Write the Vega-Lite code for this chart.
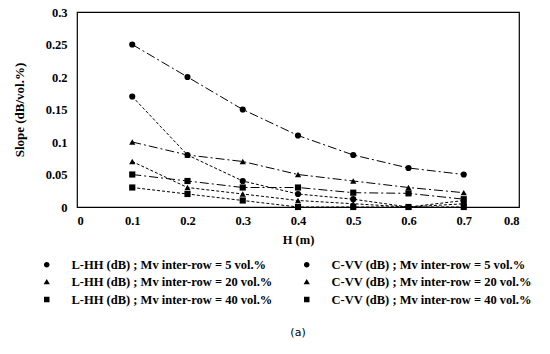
{
  "$schema": "https://vega.github.io/schema/vega-lite/v6.json",
  "width": 442,
  "height": 195,
  "autosize": "none",
  "padding": {"left": 77, "top": 12, "right": 31, "bottom": 147},
  "background": "white",
  "title": {"text": "(a)", "orient": "bottom", "offset": 20, "anchor": "middle", "font": "DejaVu Sans", "fontSize": 11, "fontWeight": "normal", "color": "black"},
  "config": {
    "view": {"stroke": "black", "strokeWidth": 1.2},
    "font": "Liberation Serif",
    "axis": {"grid": false, "ticks": false, "domain": false, "labelFont": "Liberation Serif", "labelFontWeight": "bold", "labelFontSize": 12.5, "labelColor": "black", "titleFont": "Liberation Serif", "titleFontWeight": "bold", "titleColor": "black"},
    "legend": {
      "title": null, "orient": "none", "legendX": -47, "legendY": 245.5, "direction": "horizontal", "columns": 2,
      "columnPadding": 14, "rowPadding": 3.5, "symbolSize": 156, "symbolOffset": 9.75, "labelOffset": 17.75,
      "labelFont": "Liberation Serif", "labelFontWeight": "bold", "labelFontSize": 12.5, "labelColor": "black", "labelLimit": 400,
      "symbolFillColor": "black", "symbolStrokeColor": "black", "symbolStrokeWidth": 1, "symbolOpacity": 1
    }
  },
  "data": {"values": [
    {"series": "L-HH (dB) ; Mv inter-row = 5 vol.%", "H": 0.1, "slope": 0.25},
    {"series": "L-HH (dB) ; Mv inter-row = 5 vol.%", "H": 0.2, "slope": 0.2},
    {"series": "L-HH (dB) ; Mv inter-row = 5 vol.%", "H": 0.3, "slope": 0.15},
    {"series": "L-HH (dB) ; Mv inter-row = 5 vol.%", "H": 0.4, "slope": 0.11},
    {"series": "L-HH (dB) ; Mv inter-row = 5 vol.%", "H": 0.5, "slope": 0.08},
    {"series": "L-HH (dB) ; Mv inter-row = 5 vol.%", "H": 0.6, "slope": 0.06},
    {"series": "L-HH (dB) ; Mv inter-row = 5 vol.%", "H": 0.7, "slope": 0.05},
    {"series": "C-VV (dB) ; Mv inter-row = 5 vol.%", "H": 0.1, "slope": 0.17},
    {"series": "C-VV (dB) ; Mv inter-row = 5 vol.%", "H": 0.2, "slope": 0.08},
    {"series": "C-VV (dB) ; Mv inter-row = 5 vol.%", "H": 0.3, "slope": 0.04},
    {"series": "C-VV (dB) ; Mv inter-row = 5 vol.%", "H": 0.4, "slope": 0.02},
    {"series": "C-VV (dB) ; Mv inter-row = 5 vol.%", "H": 0.5, "slope": 0.012},
    {"series": "C-VV (dB) ; Mv inter-row = 5 vol.%", "H": 0.6, "slope": 0.0},
    {"series": "C-VV (dB) ; Mv inter-row = 5 vol.%", "H": 0.7, "slope": 0.005},
    {"series": "L-HH (dB) ; Mv inter-row = 20 vol.%", "H": 0.1, "slope": 0.1},
    {"series": "L-HH (dB) ; Mv inter-row = 20 vol.%", "H": 0.2, "slope": 0.08},
    {"series": "L-HH (dB) ; Mv inter-row = 20 vol.%", "H": 0.3, "slope": 0.07},
    {"series": "L-HH (dB) ; Mv inter-row = 20 vol.%", "H": 0.4, "slope": 0.05},
    {"series": "L-HH (dB) ; Mv inter-row = 20 vol.%", "H": 0.5, "slope": 0.04},
    {"series": "L-HH (dB) ; Mv inter-row = 20 vol.%", "H": 0.6, "slope": 0.03},
    {"series": "L-HH (dB) ; Mv inter-row = 20 vol.%", "H": 0.7, "slope": 0.022},
    {"series": "C-VV (dB) ; Mv inter-row = 20 vol.%", "H": 0.1, "slope": 0.07},
    {"series": "C-VV (dB) ; Mv inter-row = 20 vol.%", "H": 0.2, "slope": 0.03},
    {"series": "C-VV (dB) ; Mv inter-row = 20 vol.%", "H": 0.3, "slope": 0.02},
    {"series": "C-VV (dB) ; Mv inter-row = 20 vol.%", "H": 0.4, "slope": 0.01},
    {"series": "C-VV (dB) ; Mv inter-row = 20 vol.%", "H": 0.5, "slope": 0.005},
    {"series": "C-VV (dB) ; Mv inter-row = 20 vol.%", "H": 0.6, "slope": 0.0},
    {"series": "C-VV (dB) ; Mv inter-row = 20 vol.%", "H": 0.7, "slope": 0.01},
    {"series": "L-HH (dB) ; Mv inter-row = 40 vol.%", "H": 0.1, "slope": 0.05},
    {"series": "L-HH (dB) ; Mv inter-row = 40 vol.%", "H": 0.2, "slope": 0.04},
    {"series": "L-HH (dB) ; Mv inter-row = 40 vol.%", "H": 0.3, "slope": 0.03},
    {"series": "L-HH (dB) ; Mv inter-row = 40 vol.%", "H": 0.4, "slope": 0.03},
    {"series": "L-HH (dB) ; Mv inter-row = 40 vol.%", "H": 0.5, "slope": 0.022},
    {"series": "L-HH (dB) ; Mv inter-row = 40 vol.%", "H": 0.6, "slope": 0.021},
    {"series": "L-HH (dB) ; Mv inter-row = 40 vol.%", "H": 0.7, "slope": 0.012},
    {"series": "C-VV (dB) ; Mv inter-row = 40 vol.%", "H": 0.1, "slope": 0.03},
    {"series": "C-VV (dB) ; Mv inter-row = 40 vol.%", "H": 0.2, "slope": 0.02},
    {"series": "C-VV (dB) ; Mv inter-row = 40 vol.%", "H": 0.3, "slope": 0.01},
    {"series": "C-VV (dB) ; Mv inter-row = 40 vol.%", "H": 0.4, "slope": 0.0},
    {"series": "C-VV (dB) ; Mv inter-row = 40 vol.%", "H": 0.5, "slope": 0.0},
    {"series": "C-VV (dB) ; Mv inter-row = 40 vol.%", "H": 0.6, "slope": 0.0},
    {"series": "C-VV (dB) ; Mv inter-row = 40 vol.%", "H": 0.7, "slope": 0.0}
  ]},
  "encoding": {
    "x": {"field": "H", "type": "quantitative", "title": "H (m)", "scale": {"domain": [0, 0.8], "nice": false, "zero": false},
      "axis": {"values": [0, 0.1, 0.2, 0.3, 0.4, 0.5, 0.6, 0.7, 0.8], "format": "~g", "labelPadding": 7, "titleFontSize": 12.5, "titlePadding": 7}},
    "y": {"field": "slope", "type": "quantitative", "title": "Slope (dB/vol.%)", "scale": {"domain": [0, 0.3], "nice": false},
      "axis": {"values": [0, 0.05, 0.1, 0.15, 0.2, 0.25, 0.3], "format": "~g", "labelPadding": 10, "titleFontSize": 13, "titlePadding": 19}}
  },
  "layer": [
    {
      "mark": {"type": "line", "color": "black", "strokeWidth": 1},
      "encoding": {
        "detail": {"field": "series"},
        "strokeDash": {"field": "series", "type": "nominal", "legend": null,
          "scale": {"domain": ["L-HH (dB) ; Mv inter-row = 5 vol.%", "C-VV (dB) ; Mv inter-row = 5 vol.%", "L-HH (dB) ; Mv inter-row = 20 vol.%", "C-VV (dB) ; Mv inter-row = 20 vol.%", "L-HH (dB) ; Mv inter-row = 40 vol.%", "C-VV (dB) ; Mv inter-row = 40 vol.%"],
            "range": [[9, 3, 2, 3], [3, 2], [9, 3, 2, 3], [3, 2], [9, 3, 2, 3], [3, 2]]}}
      }
    },
    {
      "mark": {"type": "point", "filled": true, "color": "black", "size": 38, "opacity": 1},
      "encoding": {
        "shape": {"field": "series", "type": "nominal", "legend": null,
          "scale": {"domain": ["L-HH (dB) ; Mv inter-row = 5 vol.%", "C-VV (dB) ; Mv inter-row = 5 vol.%", "L-HH (dB) ; Mv inter-row = 20 vol.%", "C-VV (dB) ; Mv inter-row = 20 vol.%", "L-HH (dB) ; Mv inter-row = 40 vol.%", "C-VV (dB) ; Mv inter-row = 40 vol.%"],
            "range": ["circle", "circle", "triangle-up", "triangle-up", "square", "square"]}
        }
      }
    },
    {
      "mark": {"type": "point", "filled": true, "fill": "black", "stroke": "black", "strokeWidth": 1, "opacity": 0},
      "encoding": {
        "shape": {"field": "series", "type": "nominal",
          "scale": {"domain": ["L-HH (dB) ; Mv inter-row = 5 vol.%", "C-VV (dB) ; Mv inter-row = 5 vol.%", "L-HH (dB) ; Mv inter-row = 20 vol.%", "C-VV (dB) ; Mv inter-row = 20 vol.%", "L-HH (dB) ; Mv inter-row = 40 vol.%", "C-VV (dB) ; Mv inter-row = 40 vol.%"],
            "range": [
              "M-2.7,0H2.7M-0.45,0A0.45,0.45,0,1,1,0.45,0A0.45,0.45,0,1,1,-0.45,0Z",
              "M-2.7,0H2.7M-0.45,0A0.45,0.45,0,1,1,0.45,0A0.45,0.45,0,1,1,-0.45,0Z",
              "M-2.7,0H2.7M0,-0.5L0.5,0.38L-0.5,0.38Z",
              "M-2.7,0H2.7M0,-0.5L0.5,0.38L-0.5,0.38Z",
              "M-2.7,0H2.7M-0.44,-0.44H0.44V0.44H-0.44Z",
              "M-2.7,0H2.7M-0.44,-0.44H0.44V0.44H-0.44Z"
            ]}
        },
        "strokeDash": {"field": "series", "type": "nominal",
          "scale": {"domain": ["L-HH (dB) ; Mv inter-row = 5 vol.%", "C-VV (dB) ; Mv inter-row = 5 vol.%", "L-HH (dB) ; Mv inter-row = 20 vol.%", "C-VV (dB) ; Mv inter-row = 20 vol.%", "L-HH (dB) ; Mv inter-row = 40 vol.%", "C-VV (dB) ; Mv inter-row = 40 vol.%"],
            "range": [[9, 3], [3, 2], [9, 3], [3, 2], [9, 3], [3, 2]]}
        }
      }
    }
  ],
  "resolve": {"scale": {"shape": "independent", "strokeDash": "independent"}, "legend": {"shape": "independent", "strokeDash": "independent"}}
}
